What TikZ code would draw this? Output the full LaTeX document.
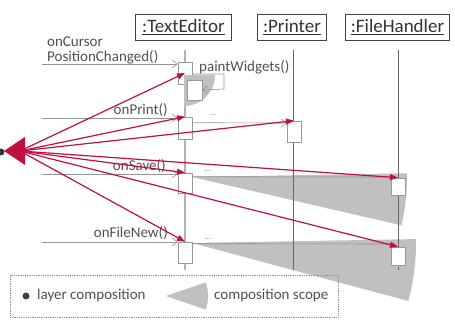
\documentclass[tikz,border=0pt]{standalone}
\usepackage{fontspec}
\setmainfont{Carlito}
\usetikzlibrary{arrows.meta,calc}
\definecolor{crim}{RGB}{192,16,64}
\definecolor{scopegray}{RGB}{192,192,192}
\definecolor{txtgray}{RGB}{80,80,80}
\definecolor{msggray}{RGB}{150,150,150}
\begin{document}
\begin{tikzpicture}[x=1pt,y=-1pt,
  font=\fontsize{15}{15}\selectfont,
  hdr/.style={draw=black!75, line width=0.9pt, inner sep=1pt, minimum height=26pt, text=black!80, font=\fontsize{19}{19}\selectfont,
    append after command={\pgfextra{\let\hdrnode\tikzlastnode}
      [draw=black!75, line width=0.6pt] ($(\hdrnode.north west)+(2.2,2.2)$) rectangle ($(\hdrnode.south east)+(-2.2,-2.2)$)}},
  act/.style={draw=black!40, fill=white, line width=0.6pt, minimum width=14pt, inner sep=0pt},
  msg/.style={draw=msggray, line width=0.6pt, -{Straight Barb[length=5pt,width=8pt]}},
  lbl/.style={text=txtgray, inner sep=0pt},
  dots/.style={text=msggray, inner sep=0pt, font=\fontsize{9}{9}\selectfont},
  callarrow/.style={draw=crim, line width=1.2pt, -{Triangle[length=8pt,width=6pt]}},
  scopefill/.style={fill=scopegray},
  lifeTE/.style={draw=black!30, line width=1.6pt},
  life/.style={draw=black!60, line width=0.6pt}]
\useasboundingbox (0,0) rectangle (455,320);

% headers
\node[hdr, minimum width=96pt] (teh) at (183.5,27) {\underline{:TextEditor}};
\node[hdr, minimum width=69pt] (prh) at (292,27) {\underline{:Printer}};
\node[hdr, minimum width=104pt] (fhh) at (397.5,27) {\underline{:FileHandler}};

% composition scopes (big)
\fill[scopefill] (192,177) -- ++(-1:215) arc[start angle=-1, end angle=13, radius=215] -- cycle;
\fill[scopefill] (192,243) -- ++(-1:224) arc[start angle=-1, end angle=15, radius=224] -- cycle;

% lifelines
\coordinate (teTop) at (185,50); \coordinate (teBot) at (185,270);
\coordinate (prTop) at (293,50); \coordinate (prBot) at (293,270);
\coordinate (fhTop) at (398,50); \coordinate (fhMid) at (398,255); \coordinate (fhBot) at (398,272);
\draw[lifeTE] (teTop) -- (teBot);
\draw[life] (prTop) -- (prBot);
\draw[life] (fhTop) -- (fhMid);
\draw[life, dashed] (fhMid) -- (fhBot);

% activation boxes
\node[act, minimum height=22pt] (te1) at (185,73) {};
\fill[scopefill] (184,75) -- ++(0:31) arc[start angle=0, end angle=90, radius=31] -- cycle;
\node[act, minimum width=15pt, minimum height=20pt] (te2) at (194.5,90) {};
\node[act, minimum height=22pt] (te3) at (185,128) {};
\node[act, minimum height=21pt] (pr1) at (294,131.5) {};
\node[act, minimum height=20pt] (te4) at (185,183) {};
\node[act, minimum height=17pt] (fh1) at (398,186.5) {};
\node[act, minimum height=21pt] (te5) at (185,252.5) {};
\node[act, minimum height=18pt] (fh2) at (398,256) {};

% incoming messages
\coordinate (m1) at (42,64);
\coordinate (m2) at (42,118);
\coordinate (m3) at (42,174);
\coordinate (m4) at (42,242);
\draw[msg] (m1) -- (te1.west |- m1);
\draw[msg] (m2) -- (te3.west |- m2);
\draw[msg] (m3) -- (te4.west |- m3);
\draw[msg] (m4) -- (te5.west |- m4);

% self call
\draw[msg] (te1.east |- 0,74) -| (224,89) -- (te2.east);

% forwarded messages
\draw[msg] ($(te3.north east)+(0,6)$) -- (pr1.west |- 0,123);
\draw[draw=black!45, line width=0.6pt] ($(te4.north east)+(0,4)$) -- (fh1.west |- 0,177);
\draw[draw=black!45, line width=0.6pt] ($(te5.north east)+(0,2)$) -- (fh2.west |- 0,244);
\node[dots] (d1) at (213,115) {...};
\node[dots] (d2) at (208,171) {...};
\node[dots] (d3) at (208,239) {...};

% labels
\node[lbl, anchor=west, align=left, font=\fontsize{15}{15.5}\selectfont] (lcur) at (47,50.5) {onCursor\\PositionChanged()};
\node[lbl, anchor=west] (lpaint) at (199,67) {paintWidgets()};
\node[lbl, anchor=east] (lprint) at (168,110) {onPrint()};
\node[lbl, anchor=east] (lsave) at (166,166) {onSave()};
\node[lbl, anchor=east] (lnew) at (168,233) {onFileNew()};

% red call arrows
\coordinate (hub) at (20,151);
\draw[callarrow] (hub) -- (te1.center);
\draw[callarrow] (hub) -- (te3.north);
\draw[callarrow] (hub) -- (pr1.north);
\draw[callarrow] (hub) -- (te4.north);
\draw[callarrow] (hub) -- (fh1.north);
\draw[callarrow] (hub) -- (fh2.north);
\draw[callarrow] (hub) -- (te5.north);
\fill[crim] (4,151) -- (25,137) -- (25,165) -- cycle;
\fill[black!80] (1,152) circle (3.5);

% legend
\node[draw=black!45, densely dotted, line width=0.8pt, minimum width=328pt, minimum height=42pt, inner sep=0pt] (leg) at (174,296) {};
\fill[black!75] (26,296) circle (3.5);
\node[lbl, anchor=west] (l1) at (37,296) {layer composition};
\fill[scopefill] (166,296) -- ++(-19:42) arc[start angle=-19, end angle=19, radius=42] -- cycle;
\node[lbl, anchor=west] (l2) at (214,296) {composition scope};
\end{tikzpicture}
\end{document}
